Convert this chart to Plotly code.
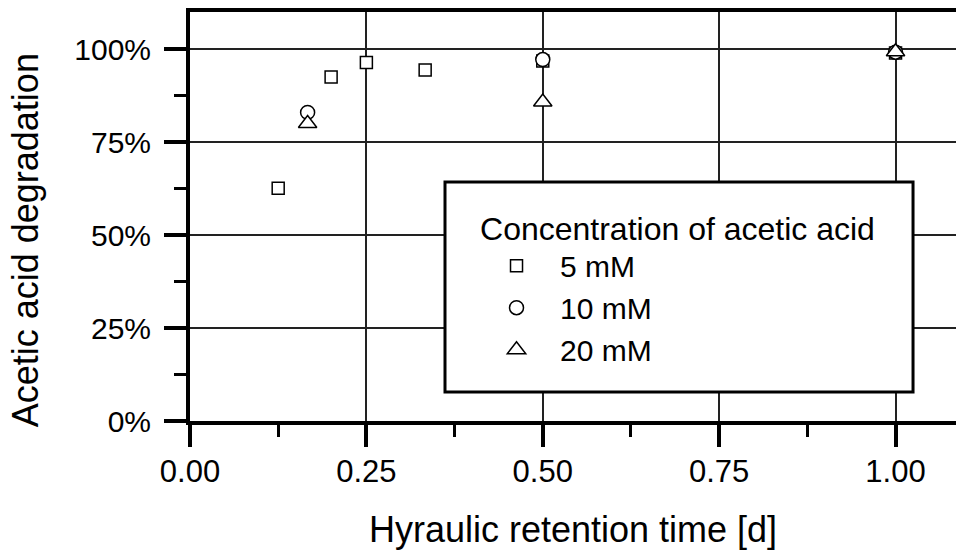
import plotly.graph_objects as go

# Hydraulic retention time [d] and degradation [%] for each acetic acid concentration
hrt_5mM = [0.125, 0.2, 0.25, 0.3333, 0.5, 1.0]
deg_5mM = [62.6, 92.5, 96.4, 94.4, 96.8, 99.0]

hrt_10mM = [0.1667, 0.5, 1.0]
deg_10mM = [83.0, 97.2, 99.2]

hrt_20mM = [0.1667, 0.5, 1.0]
deg_20mM = [80.0, 85.8, 99.3]

series_names = ["5 mM", "10 mM", "20 mM"]
x_ticks = [0.0, 0.25, 0.5, 0.75, 1.0]
y_ticks = [0, 25, 50, 75, 100]
y_tick_text = [f"{v}%" for v in y_ticks]

FONT = "Liberation Sans, Arial, Helvetica, sans-serif"

fig = go.Figure()

markers = [
    (hrt_5mM, deg_5mM, "square", 12),
    (hrt_10mM, deg_10mM, "circle", 14),
    (hrt_20mM, deg_20mM, "triangle-up", 16),
]
for (xs, ys, sym, size), name in zip(markers, series_names):
    fig.add_trace(go.Scatter(
        x=xs, y=ys, mode="markers", name=name,
        marker=dict(symbol=sym, size=size, color="white",
                    line=dict(color="black", width=1.5)),
    ))

# white framed box behind the legend
fig.add_shape(type="rect", xref="paper", yref="paper",
              x0=0.3329, x1=0.9439, y0=0.0709, y1=0.5844,
              line=dict(color="black", width=3), fillcolor="white", layer="above")

fig.add_annotation(text="Acetic acid degradation", xref="paper", yref="paper",
                   x=-0.215, y=0.4425, xanchor="center", yanchor="middle",
                   textangle=-90, showarrow=False,
                   font=dict(family=FONT, size=36, color="black"))

fig.update_layout(
    width=956, height=552,
    margin=dict(l=190, r=0, t=12, b=131),
    paper_bgcolor="white", plot_bgcolor="white",
    font=dict(family=FONT, color="black"),
    showlegend=True,
    legend=dict(
        title=dict(text="Concentration of acetic acid", font=dict(size=32)),
        font=dict(size=30),
        x=0.376, y=0.545, xanchor="left", yanchor="top",
        bgcolor="rgba(0,0,0,0)", borderwidth=0,
        itemwidth=77, indentation=-5, tracegroupgap=0,
    ),
    xaxis=dict(
        range=[0, 1.0857], tickvals=x_ticks, tickformat=".2f",
        showline=True, linecolor="black", linewidth=4, mirror=True,
        ticks="outside", ticklen=22, tickwidth=4, tickcolor="black",
        showgrid=True, gridcolor="#222", gridwidth=1.5, zeroline=False,
        tickfont=dict(size=31), ticklabelstandoff=-2,
        minor=dict(dtick=0.125, tick0=0, ticks="outside", ticklen=12,
                   tickwidth=3, tickcolor="black", showgrid=False),
        title=dict(text="Hyraulic retention time [d]", font=dict(size=36), standoff=30),
    ),
    yaxis=dict(
        range=[0, 110], tickvals=y_ticks, ticktext=y_tick_text,
        showline=True, linecolor="black", linewidth=4, mirror=False,
        ticks="outside", ticklen=22, tickwidth=4, tickcolor="black",
        showgrid=True, gridcolor="#222", gridwidth=1.5, zeroline=False,
        tickfont=dict(size=30), ticklabelstandoff=7,
        minor=dict(dtick=12.5, tick0=0, ticks="outside", ticklen=12,
                   tickwidth=3, tickcolor="black", showgrid=False),
    ),
)

fig.write_html("out.html")
